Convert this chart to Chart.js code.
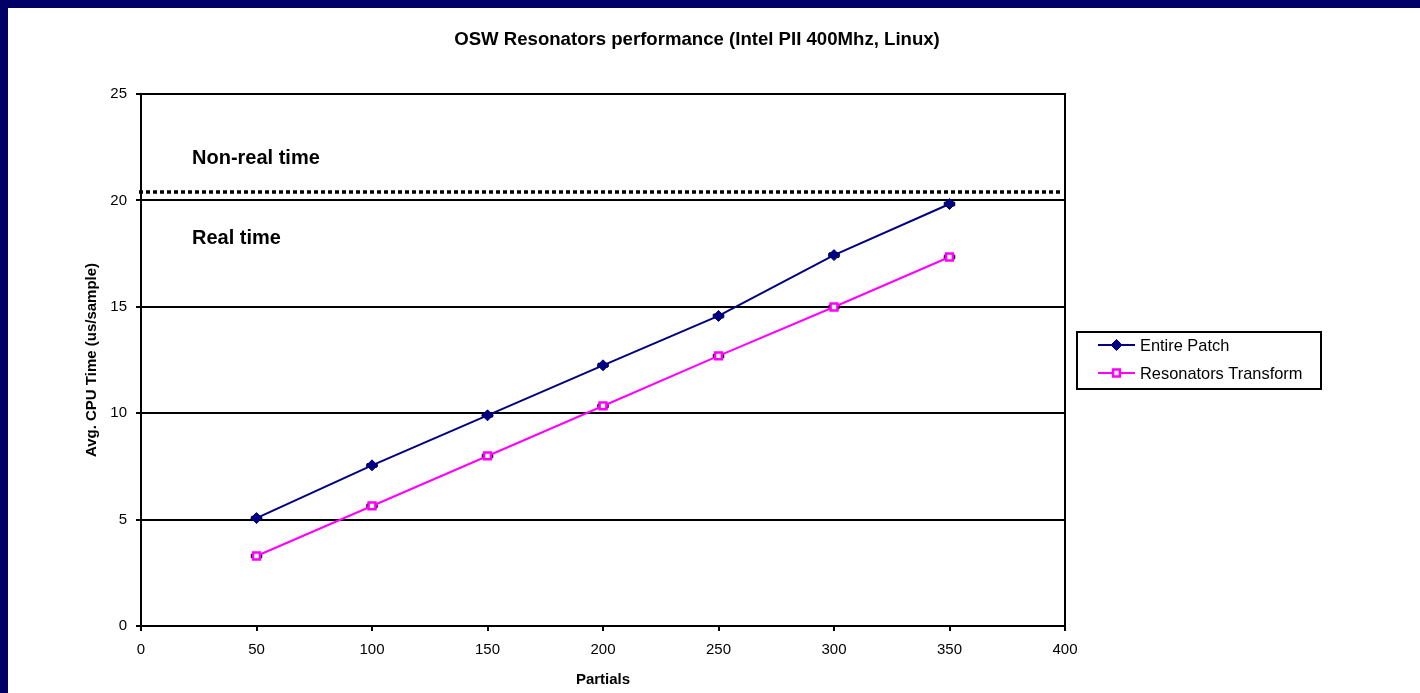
<!DOCTYPE html>
<html>
<head>
<meta charset="utf-8">
<title>OSW Resonators performance</title>
<script src="https://cdn.jsdelivr.net/npm/chart.js@4.4.1/dist/chart.umd.min.js"></script>
<style>
  html, body { margin: 0; padding: 0; background: #fff; }
  #frame {
    position: absolute; left: 0; top: 0;
    width: 1412px; height: 685px;
    border-top: 8px solid #000066;
    border-left: 8px solid #000066;
    background: #fff;
  }
  canvas { display: block; }
</style>
</head>
<body>
<div id="frame"><canvas id="chart" width="1412" height="685"></canvas></div>
<script>
// Measured CPU time per sample for growing numbers of partials
const partials            = [50, 100, 150, 200, 250, 300, 350];
const entirePatch         = [5.07, 7.55, 9.90, 12.25, 14.57, 17.43, 19.83];
const resonatorsTransform = [3.29, 5.64, 7.99, 10.34, 12.69, 14.99, 17.34];
// small spread of the measurements (drawn as error bars)
const entirePatchErr         = [0.08, 0.08, 0.08, 0.08, 0.08, 0.10, 0.08];
const resonatorsTransformErr = [0.08, 0.08, 0.08, 0.08, 0.08, 0.08, 0.08];

const chartTitle = 'OSW Resonators performance (Intel PII 400Mhz, Linux)';
const seriesNames = ['Entire Patch', 'Resonators Transform'];
const xTickValues = [0, 50, 100, 150, 200, 250, 300, 350, 400];
const yTickValues = [0, 5, 10, 15, 20, 25];

// real-time budget per sample and the two regions it separates
const realtimeLimit = 20.4;
const regionLabels = ['Non-real time', 'Real time'];

const FONT = "'Liberation Sans', Arial, Helvetica, sans-serif";
Chart.defaults.font.family = FONT;
Chart.defaults.color = '#000';

const toPoints = (xs, ys) => xs.map((x, i) => ({ x: x, y: ys[i] }));

// chart heading, centred over plot and legend together
const heading = {
  id: 'heading',
  afterDraw(chart) {
    const { ctx } = chart;
    ctx.save();
    ctx.fillStyle = '#000';
    ctx.font = "bold 18.6px " + FONT;
    ctx.textAlign = 'center';
    ctx.textBaseline = 'middle';
    ctx.fillText(chartTitle, 689, 32);
    ctx.restore();
  }
};

// black frame around the plotting area
const plotFrame = {
  id: 'plotFrame',
  beforeDatasetsDraw(chart) {
    const { ctx, chartArea: a } = chart;
    ctx.save();
    ctx.strokeStyle = '#000';
    ctx.lineWidth = 2;
    ctx.strokeRect(a.left, a.top, a.right - a.left, a.bottom - a.top);
    ctx.restore();
  }
};

// dotted real-time limit with the region captions
const realtimeLine = {
  id: 'realtimeLine',
  beforeDatasetsDraw(chart) {
    const { ctx, chartArea: a } = chart;
    const y = chart.scales.y.getPixelForValue(realtimeLimit);
    ctx.save();
    ctx.strokeStyle = '#000';
    ctx.lineWidth = 3.5;
    ctx.setLineDash([4, 3]);
    ctx.beginPath();
    ctx.moveTo(a.left - 2, y);
    ctx.lineTo(a.right - 3, y);
    ctx.stroke();
    ctx.setLineDash([]);
    ctx.fillStyle = '#000';
    ctx.font = "bold 20px " + FONT;
    ctx.textBaseline = 'middle';
    ctx.textAlign = 'left';
    ctx.fillText(regionLabels[0], a.left + 51, y - 33);
    ctx.fillText(regionLabels[1], a.left + 51, y + 47);
    ctx.restore();
  }
};

// error bars behind the markers
const errorBars = {
  id: 'errorBars',
  beforeDatasetsDraw(chart) {
    const { ctx } = chart;
    const ys = chart.scales.y;
    ctx.save();
    ctx.strokeStyle = '#000';
    ctx.lineWidth = 1.5;
    chart.data.datasets.forEach((ds, i) => {
      const meta = chart.getDatasetMeta(i);
      meta.data.forEach((pt, j) => {
        const v = ds.data[j].y, e = ds.errors[j];
        const y1 = ys.getPixelForValue(v + e), y2 = ys.getPixelForValue(v - e);
        ctx.beginPath();
        ctx.moveTo(pt.x - 5, y1); ctx.lineTo(pt.x + 5, y1);
        ctx.moveTo(pt.x - 5, y2); ctx.lineTo(pt.x + 5, y2);
        ctx.moveTo(pt.x - 5, y1); ctx.lineTo(pt.x - 5, y2);
        ctx.moveTo(pt.x + 5, y1); ctx.lineTo(pt.x + 5, y2);
        ctx.moveTo(pt.x, y1); ctx.lineTo(pt.x, y2);
        ctx.stroke();
      });
    });
    ctx.restore();
  }
};

// boxed legend to the right of the plot
const boxLegend = {
  id: 'boxLegend',
  afterDraw(chart) {
    const { ctx, chartArea: a } = chart;
    const bx = a.right + 12, by = 324, bw = 244, bh = 57;
    ctx.save();
    ctx.strokeStyle = '#000';
    ctx.lineWidth = 2;
    ctx.strokeRect(bx, by, bw, bh);
    chart.data.datasets.forEach((ds, i) => {
      const ry = by + 13 + i * 28;
      ctx.strokeStyle = ds.borderColor;
      ctx.lineWidth = 2;
      ctx.beginPath();
      ctx.moveTo(bx + 21, ry);
      ctx.lineTo(bx + 58, ry);
      ctx.stroke();
      ctx.fillStyle = ds.pointBackgroundColor;
      ctx.strokeStyle = ds.pointBorderColor;
      ctx.lineWidth = ds.pointBorderWidth;
      Chart.helpers.drawPoint(ctx, {
        pointStyle: ds.pointStyle, radius: ds.pointRadius,
        borderWidth: ds.pointBorderWidth, rotation: 0
      }, bx + 39.5, ry);
      ctx.fillStyle = '#000';
      ctx.font = "16.4px " + FONT;
      ctx.textBaseline = 'middle';
      ctx.textAlign = 'left';
      ctx.fillText(ds.label, bx + 63, ry + 1);
    });
    ctx.restore();
  }
};

new Chart(document.getElementById('chart'), {
  type: 'line',
  data: {
    datasets: [
      {
        label: seriesNames[0],
        data: toPoints(partials, entirePatch),
        errors: entirePatchErr,
        borderColor: '#000080',
        borderWidth: 2,
        pointStyle: 'rectRot',
        pointRadius: 5.5,
        pointBorderWidth: 1,
        pointBackgroundColor: '#000080',
        pointBorderColor: '#000080',
        tension: 0
      },
      {
        label: seriesNames[1],
        data: toPoints(partials, resonatorsTransform),
        errors: resonatorsTransformErr,
        borderColor: '#FF00FF',
        borderWidth: 2,
        pointStyle: 'rect',
        pointRadius: 4.8,
        pointBorderWidth: 2.5,
        pointBackgroundColor: '#ffffff',
        pointBorderColor: '#FF00FF',
        tension: 0
      }
    ]
  },
  options: {
    responsive: false,
    animation: false,
    devicePixelRatio: 1,
    layout: { padding: { left: 75, right: 355, top: 86, bottom: 0 } },
    plugins: {
      legend: { display: false },
      tooltip: { enabled: false },
      title: { display: false }
    },
    scales: {
      x: {
        type: 'linear',
        min: 0, max: 400,
        afterBuildTicks: s => { s.ticks = xTickValues.map(v => ({ value: v })); },
        afterFit: s => { s.height = 67; },
        grid: { drawOnChartArea: false, drawTicks: true, tickLength: 5, color: '#000', lineWidth: 2 },
        border: { display: true, color: '#000', width: 2 },
        ticks: { color: '#000', font: { size: 15 }, padding: 10, maxRotation: 0 },
        title: {
          display: true, text: 'Partials', color: '#000',
          font: { size: 15, weight: 'bold' }, padding: { top: 0, bottom: 4 }
        }
      },
      y: {
        type: 'linear',
        min: 0, max: 25,
        afterBuildTicks: s => { s.ticks = yTickValues.map(v => ({ value: v })); },
        afterFit: s => { s.width = 58; },
        grid: { drawOnChartArea: true, drawTicks: true, tickLength: 5, color: '#000', lineWidth: 2 },
        border: { display: true, color: '#000', width: 2 },
        ticks: { color: '#000', font: { size: 15 }, padding: 9 },
        title: {
          display: true, text: 'Avg. CPU Time (us/sample)', color: '#000',
          font: { size: 15, weight: 'bold' }, padding: { top: 0, bottom: 0 }
        }
      }
    }
  },
  plugins: [plotFrame, errorBars, realtimeLine, boxLegend, heading]
});
</script>
</body>
</html>
